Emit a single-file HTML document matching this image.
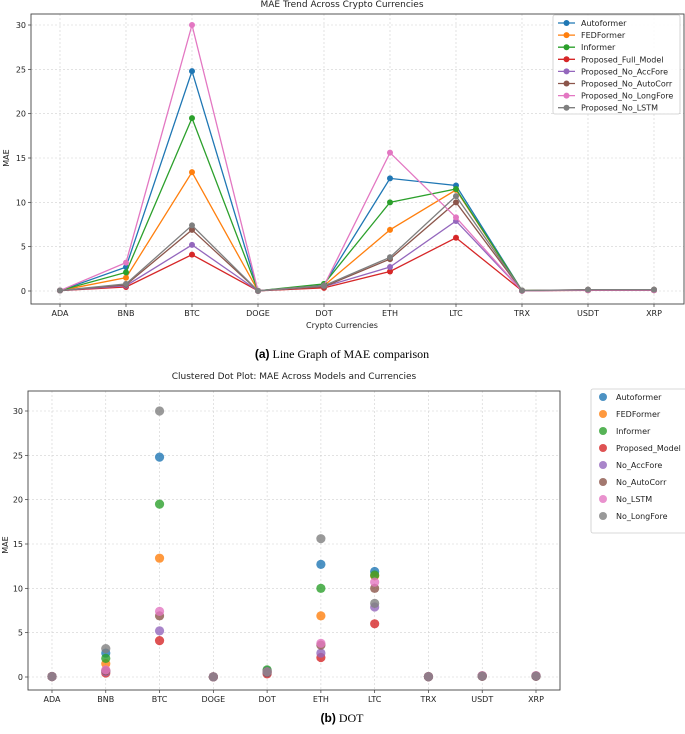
<!DOCTYPE html>
<html><head><meta charset="utf-8"><style>
body{margin:0;background:#fff;}
svg{display:block;font-family:"DejaVu Sans","Liberation Sans",sans-serif;}
.t{font-size:8px;fill:#222;}
.g{stroke:#d0d0d0;stroke-width:0.6;stroke-dasharray:2,2;}
</style></head><body>
<svg id="s" width="685" height="734">
<text x="342" y="7" text-anchor="middle" font-size="9" fill="#222">MAE Trend Across Crypto Currencies</text>
<text x="342" y="328" text-anchor="middle" font-size="8" fill="#222">Crypto Currencies</text>
<text x="9" y="158" text-anchor="middle" font-size="8" fill="#222" transform="rotate(-90 9 158)">MAE</text>
<text x="342" y="358" text-anchor="middle" font-family="Liberation Serif,serif" font-size="12" fill="#000"><tspan font-family="Liberation Sans,sans-serif" font-weight="bold">(a)</tspan> Line Graph of MAE comparison</text>
<text x="294" y="379" text-anchor="middle" font-size="9" fill="#222">Clustered Dot Plot: MAE Across Models and Currencies</text>
<text x="8" y="545" text-anchor="middle" font-size="8" fill="#222" transform="rotate(-90 8 545)">MAE</text>
<text x="342" y="722" text-anchor="middle" font-family="Liberation Serif,serif" font-size="12" fill="#000"><tspan font-family="Liberation Sans,sans-serif" font-weight="bold">(b)</tspan> DOT</text>
</svg>
<script>
const categories=["ADA","BNB","BTC","DOGE","DOT","ETH","LTC","TRX","USDT","XRP"];
const yTicks=[0,5,10,15,20,25,30];
const colors=["#1f77b4","#ff7f0e","#2ca02c","#d62728","#9467bd","#8c564b","#e377c2","#7f7f7f"];
const lineNames=["Autoformer","FEDFormer","Informer","Proposed_Full_Model","Proposed_No_AccFore","Proposed_No_AutoCorr","Proposed_No_LongFore","Proposed_No_LSTM"];
const dotNames=["Autoformer","FEDFormer","Informer","Proposed_Model","No_AccFore","No_AutoCorr","No_LSTM","No_LongFore"];
const autoformer=[0.05,2.7,24.8,0.02,0.7,12.7,11.9,0.05,0.1,0.1];
const fedformer=[0.05,1.5,13.4,0.02,0.6,6.9,11.4,0.05,0.1,0.1];
const informer=[0.05,2.1,19.5,0.02,0.8,10.0,11.5,0.05,0.1,0.1];
const fullModel=[0.05,0.45,4.1,0.02,0.35,2.2,6.0,0.03,0.08,0.08];
const noAccFore=[0.05,0.6,5.2,0.02,0.5,2.7,7.9,0.03,0.1,0.1];
const noAutoCorr=[0.05,0.7,6.9,0.02,0.5,3.6,10.0,0.03,0.15,0.15];
const noLongFore=[0.05,3.2,30.0,0.02,0.6,15.6,8.3,0.03,0.1,0.1];
const noLSTM=[0.05,0.8,7.4,0.02,0.6,3.8,10.7,0.05,0.15,0.15];
const lineSeries=[autoformer,fedformer,informer,fullModel,noAccFore,noAutoCorr,noLongFore,noLSTM];
const dotSeries=[autoformer,fedformer,informer,fullModel,noAccFore,noAutoCorr,noLSTM,noLongFore];

const NS="http://www.w3.org/2000/svg";
const svg=document.getElementById('s');
function mk(tag,attrs,parent){const e=document.createElementNS(NS,tag);for(const k in attrs)e.setAttribute(k,attrs[k]);(parent||svg).appendChild(e);return e;}

function axes(P,prefix){
  const g=mk('g',{});
  
  
  const xs=i=>P.x0+i*(P.x1-P.x0)/(categories.length-1);
  const ys=v=>P.y0+(P.y1-P.y0)*v/30;
  yTicks.forEach(v=>{
    mk('line',{x1:P.l,x2:P.r,y1:ys(v),y2:ys(v),class:'g'},g);
    mk('line',{x1:P.l-3,x2:P.l,y1:ys(v),y2:ys(v),stroke:'#333','stroke-width':0.7},g);
    const t=mk('text',{x:P.l-5,y:ys(v)+3,'text-anchor':'end',class:'t'},g);t.textContent=v;
    
    
  });
  categories.forEach((c,i)=>{
    mk('line',{x1:xs(i),x2:xs(i),y1:P.t,y2:P.b,class:'g'},g);
    mk('line',{x1:xs(i),x2:xs(i),y1:P.b,y2:P.b+3,stroke:'#333','stroke-width':0.7},g);
    const t=mk('text',{x:xs(i),y:P.b+12,'text-anchor':'middle',class:'t'},g);t.textContent=c;
    
    
  });
  mk('rect',{x:P.l,y:P.t,width:P.r-P.l,height:P.b-P.t,fill:'none',stroke:'#444','stroke-width':0.9},g);
  return {xs,ys};
}

// top line chart
const P1={l:31,r:684,t:14,b:304,x0:60,x1:654,y0:291,y1:25};
const A1=axes(P1,'top');
lineSeries.forEach((s,k)=>{
  const g=mk('g',{});
  
  
  mk('polyline',{points:s.map((v,i)=>A1.xs(i)+','+A1.ys(v)).join(' '),fill:'none',stroke:colors[k],'stroke-width':1.3},g);
  s.forEach((v,i)=>{const c=mk('circle',{cx:A1.xs(i),cy:A1.ys(v),r:3,fill:colors[k]},g);
    
    });
});
const L1=mk('g',{});


mk('rect',{x:553,y:15,width:127,height:99,fill:'#fff','fill-opacity':0.85,stroke:'#ccc','stroke-width':0.8,rx:2},L1);
lineNames.forEach((n,k)=>{const y=23+k*12.1;
  mk('line',{x1:558,x2:575,y1:y,y2:y,stroke:colors[k],'stroke-width':1.3},L1);
  mk('circle',{cx:566.5,cy:y,r:3,fill:colors[k]},L1);
  const t=mk('text',{x:581,y:y+3,class:'t'},L1);t.textContent=n;
  
  });

// bottom dot chart
const P2={l:28,r:560,t:391,b:690,x0:52,x1:536,y0:677,y1:411};
const A2=axes(P2,'bottom');
dotSeries.forEach((s,k)=>{
  const g=mk('g',{});
  
  
  s.forEach((v,i)=>{const c=mk('circle',{cx:A2.xs(i),cy:A2.ys(v),r:4.6,fill:colors[k],'fill-opacity':0.8},g);
    
    });
});
const L2=mk('g',{});


mk('rect',{x:591,y:389,width:96,height:144,fill:'#fff',stroke:'#ccc','stroke-width':0.8,rx:2},L2);
dotNames.forEach((n,k)=>{const y=397+k*17;
  mk('circle',{cx:603,cy:y,r:4,fill:colors[k],'fill-opacity':0.8},L2);
  const t=mk('text',{x:616,y:y+3,class:'t'},L2);t.textContent=n;
  
  });
</script>
</body></html>
